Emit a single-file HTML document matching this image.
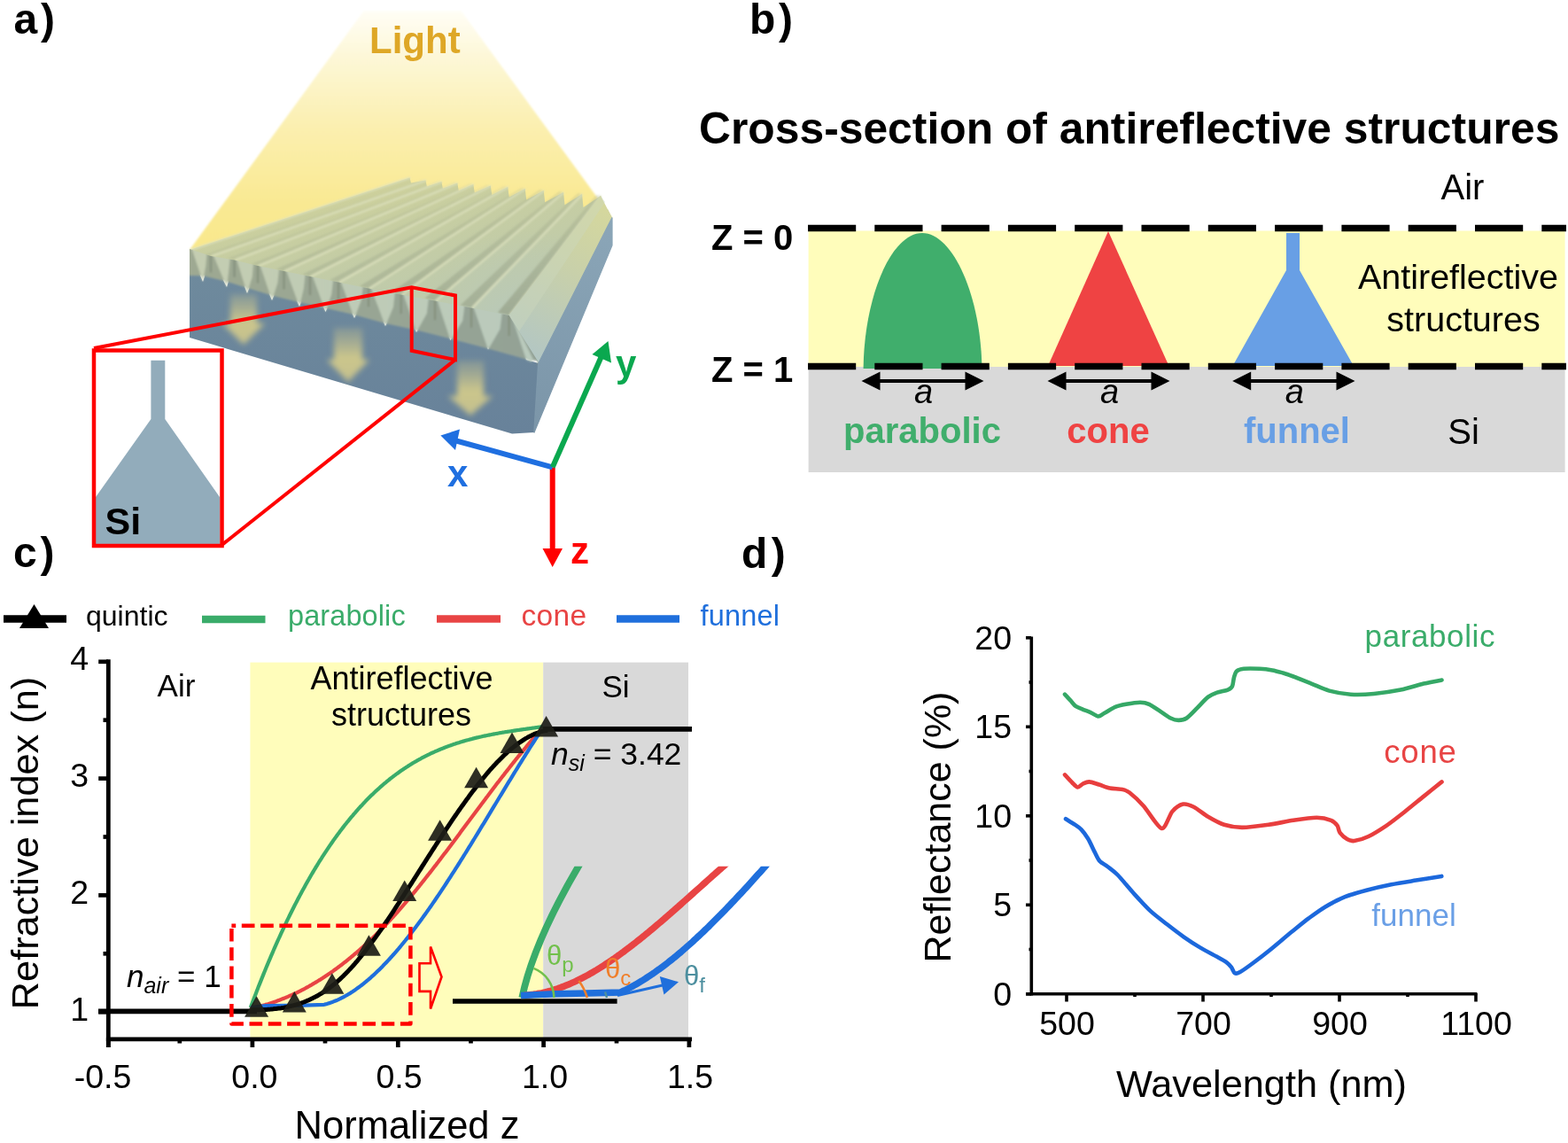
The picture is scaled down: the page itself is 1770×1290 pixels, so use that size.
<!DOCTYPE html>
<html><head><meta charset="utf-8"><title>Antireflective structures figure</title>
<style>
html,body{margin:0;padding:0;background:#fff;width:1770px;height:1290px;overflow:hidden}
svg{display:block}
text{font-family:"Liberation Sans",Arial,sans-serif;fill-rule:nonzero}
.b{font-weight:bold}
</style></head><body>
<svg width="1770" height="1290" viewBox="0 0 1770 1290">
<rect width="1770" height="1290" fill="#fff"/>
<text x="15.4" y="38" class="b" font-size="48" letter-spacing="3.8">a)</text>
<defs>
<linearGradient id="gCone" x1="0" y1="12" x2="0" y2="282" gradientUnits="userSpaceOnUse"><stop offset="0" stop-color="#fffef6"/><stop offset="0.2" stop-color="#fdf7d6"/><stop offset="0.5" stop-color="#fbefae"/><stop offset="0.8" stop-color="#f9e993"/><stop offset="1" stop-color="#f9e88c"/></linearGradient>
<linearGradient id="gWall" x1="0" y1="200" x2="0" y2="400" gradientUnits="userSpaceOnUse"><stop offset="0" stop-color="#a6ad8a" stop-opacity="0.25"/><stop offset="1" stop-color="#8f9b86" stop-opacity="0.95"/></linearGradient>
<linearGradient id="gTop" x1="0" y1="205" x2="40" y2="405" gradientUnits="userSpaceOnUse"><stop offset="0" stop-color="#dcd990"/><stop offset="0.3" stop-color="#d2d297"/><stop offset="0.6" stop-color="#c8cea0"/><stop offset="1" stop-color="#c0cbaa"/></linearGradient>
<radialGradient id="gBlueTop" cx="600" cy="410" r="150" gradientUnits="userSpaceOnUse"><stop offset="0" stop-color="#b0c6c6" stop-opacity="0.95"/><stop offset="0.5" stop-color="#b4c7c0" stop-opacity="0.5"/><stop offset="1" stop-color="#b8c8b8" stop-opacity="0"/></radialGradient>
<linearGradient id="gArrow" x1="0" y1="0" x2="0" y2="1"><stop offset="0" stop-color="#c9c48f" stop-opacity="0.25"/><stop offset="0.55" stop-color="#d6cd8a" stop-opacity="0.9"/><stop offset="1" stop-color="#d3ca8c" stop-opacity="0.85"/></linearGradient>
<linearGradient id="gFront" x1="0" y1="282" x2="0" y2="489" gradientUnits="userSpaceOnUse"><stop offset="0" stop-color="#6f8b9d"/><stop offset="1" stop-color="#68829a"/></linearGradient>
<linearGradient id="gRight" x1="690" y1="245" x2="603" y2="489" gradientUnits="userSpaceOnUse"><stop offset="0" stop-color="#8ba6b8"/><stop offset="1" stop-color="#7b95a8"/></linearGradient>
<linearGradient id="gBand" x1="0" y1="0" x2="0" y2="1"><stop offset="0" stop-color="#a9b39a"/><stop offset="0.75" stop-color="#a3ae9b"/><stop offset="1" stop-color="#a3ae9b" stop-opacity="0"/></linearGradient>
<linearGradient id="gInset" x1="0" y1="0" x2="0" y2="1"><stop offset="0" stop-color="#93adbc"/><stop offset="1" stop-color="#90aab8"/></linearGradient>
<linearGradient id="gLast" x1="680" y1="225" x2="590" y2="400" gradientUnits="userSpaceOnUse"><stop offset="0" stop-color="#d6d89c"/><stop offset="0.45" stop-color="#c8d0aa"/><stop offset="1" stop-color="#b2c6c4"/></linearGradient>
<linearGradient id="gBand2" x1="214" y1="0" x2="610" y2="0" gradientUnits="userSpaceOnUse"><stop offset="0" stop-color="#9ea992"/><stop offset="1" stop-color="#93a296"/></linearGradient>
<linearGradient id="gTeeth" x1="214" y1="0" x2="610" y2="0" gradientUnits="userSpaceOnUse"><stop offset="0" stop-color="#c4cdb1"/><stop offset="1" stop-color="#b9cabd"/></linearGradient>
<filter id="blur3" x="-20%" y="-20%" width="140%" height="140%"><feGaussianBlur stdDeviation="3"/></filter>
<filter id="blur1" x="-20%" y="-20%" width="140%" height="140%"><feGaussianBlur stdDeviation="1.2"/></filter>
</defs>
<polygon points="410.5,12.5 520.7,12.5 691,246 214,282" fill="url(#gCone)" filter="url(#blur1)"/>
<polygon points="214,282 462.5,200.6 464,206.6 480.4,203.6 481.9,210.5 498.4,205 499.9,212.8 516.3,206.6 517.8,215.3 534.3,208 535.8,217.6 553.8,209.6 555.3,220.1 573.2,211 574.7,222.5 592.7,213 594.2,225.4 613.7,215 615.2,228.3 636,217 637.5,231.2 657,219 658.5,234.1 678,221 679.5,237 686,236 691,246 608,410 574.6,359 532,350.5 491,342.5 452.7,335.5 416,328.5 382,321.5 350,315 320.5,309 291,303 264.6,296.5 238,292 214,285" fill="url(#gTop)"/>
<polygon points="214,282 462.5,200.6 464,206.6 480.4,203.6 481.9,210.5 498.4,205 499.9,212.8 516.3,206.6 517.8,215.3 534.3,208 535.8,217.6 553.8,209.6 555.3,220.1 573.2,211 574.7,222.5 592.7,213 594.2,225.4 613.7,215 615.2,228.3 636,217 637.5,231.2 657,219 658.5,234.1 678,221 679.5,237 686,236 691,246 608,410 574.6,359 532,350.5 491,342.5 452.7,335.5 416,328.5 382,321.5 350,315 320.5,309 291,303 264.6,296.5 238,292 214,285" fill="url(#gBlueTop)"/>
<g filter="url(#blur1)">
<polygon points="238,289 480.4,203.6 476.5,202.8 230.8,287.2" fill="url(#gWall)" opacity="0.4"/>
<polygon points="264.6,293.5 498.4,205 494.4,204.2 256.6,291.5" fill="url(#gWall)" opacity="0.4"/>
<polygon points="291,300 516.3,206.6 512.4,205.8 283.1,298" fill="url(#gWall)" opacity="0.5"/>
<polygon points="320.5,306 534.3,208 530.3,207.2 311.6,303.8" fill="url(#gWall)" opacity="0.6"/>
<polygon points="350,312 553.8,209.6 549.5,208.7 341.1,309.8" fill="url(#gWall)" opacity="0.6"/>
<polygon points="382,318.5 573.2,211 568.9,210.1 372.4,316.1" fill="url(#gWall)" opacity="0.6"/>
<polygon points="416,325.5 592.7,213 588.4,212.1 405.8,322.9" fill="url(#gWall)" opacity="0.7"/>
<polygon points="452.7,332.5 613.7,215 609.1,214.1 441.7,329.7" fill="url(#gWall)" opacity="0.8"/>
<polygon points="491,339.5 636,217 631.1,216 479.5,336.6" fill="url(#gWall)" opacity="0.8"/>
<polygon points="532,347.5 657,219 652.4,218.1 519.7,344.4" fill="url(#gWall)" opacity="0.8"/>
<polygon points="574.6,356 678,221 673.4,220.1 561.8,352.8" fill="url(#gWall)" opacity="0.9"/>
<line x1="215" y1="282" x2="463" y2="200.6" stroke="#dfe3c0" stroke-width="2.6" opacity="0.7"/>
<line x1="239" y1="289" x2="480.9" y2="203.6" stroke="#dfe3c0" stroke-width="2.6" opacity="0.7"/>
<line x1="265.6" y1="293.5" x2="498.9" y2="205" stroke="#dfe3c0" stroke-width="2.6" opacity="0.7"/>
<line x1="292" y1="300" x2="516.8" y2="206.6" stroke="#dfe3c0" stroke-width="2.6" opacity="0.7"/>
<line x1="321.5" y1="306" x2="534.8" y2="208" stroke="#dfe3c0" stroke-width="2.6" opacity="0.7"/>
<line x1="351" y1="312" x2="554.3" y2="209.6" stroke="#dfe3c0" stroke-width="2.6" opacity="0.7"/>
<line x1="383" y1="318.5" x2="573.7" y2="211" stroke="#dfe3c0" stroke-width="2.6" opacity="0.7"/>
<line x1="417" y1="325.5" x2="593.2" y2="213" stroke="#dfe3c0" stroke-width="2.6" opacity="0.7"/>
<line x1="453.7" y1="332.5" x2="614.2" y2="215" stroke="#dfe3c0" stroke-width="2.6" opacity="0.7"/>
<line x1="492" y1="339.5" x2="636.5" y2="217" stroke="#dfe3c0" stroke-width="2.6" opacity="0.7"/>
<line x1="533" y1="347.5" x2="657.5" y2="219" stroke="#dfe3c0" stroke-width="2.6" opacity="0.7"/>
<line x1="575.6" y1="356" x2="678.5" y2="221" stroke="#dfe3c0" stroke-width="2.6" opacity="0.7"/>
</g>
<polygon points="574.6,356 678,221 691,246 608,410" fill="url(#gLast)"/>
<polygon points="574.6,356 678,221 683,228 586,374" fill="#cdd6bc" opacity="0.45"/>
<polygon points="214,282 229,318 238,289 256,324 264.6,293.5 279,331 291,300 307,339 320.5,306 338,346 350,312 367.5,352 382,318.5 400,359 416,325.5 435,368 452.7,332.5 470,375 491,339.5 508.5,384 532,347.5 551,394.5 574.6,356 594,406 608,410 603,488 578,489.6 214,381" fill="url(#gFront)"/>
<defs><clipPath id="clipFront"><polygon points="214,281 238,289 264.6,293.5 291,300 320.5,306 350,312 382,318.5 416,325.5 452.7,332.5 491,339.5 532,347.5 574.6,356 608,409 603,488 578,489.6 214,381"/></clipPath></defs>
<g clip-path="url(#clipFront)"><g filter="url(#blur1)">
<polygon points="210,278 238,285 264.6,289.5 291,296 320.5,302 350,308 382,314.5 416,321.5 452.7,328.5 491,335.5 532,343.5 574.6,352 612,405 612,408 594,405.6 551,393.4 508.5,382.2 470,372.5 435,364.9 400,355.3 367.5,347.7 338,341.2 307,333.6 279,325.1 256,317.7 229,311.3 210,311" fill="url(#gBand2)"/>
<polygon points="215.5,278 233.7,285 232.2,300.6 229,318" fill="url(#gTeeth)"/>
<line x1="238" y1="288" x2="238" y2="307.5" stroke="#86927f" stroke-width="2.4"/>
<polygon points="239.5,285 259.8,289.5 258.2,305.7 256,324" fill="url(#gTeeth)"/>
<line x1="264.6" y1="292.5" x2="264.6" y2="312.8" stroke="#86927f" stroke-width="2.4"/>
<polygon points="266.1,289.5 286.2,296 284.7,312.4 279,331" fill="url(#gTeeth)"/>
<line x1="291" y1="299" x2="291" y2="319.5" stroke="#86927f" stroke-width="2.4"/>
<polygon points="292.5,296 315.2,302 313.4,319.2 307,339" fill="url(#gTeeth)"/>
<line x1="320.5" y1="305" x2="320.5" y2="326.5" stroke="#86927f" stroke-width="2.4"/>
<polygon points="322,302 344.7,308 342.9,325.6 338,346" fill="url(#gTeeth)"/>
<line x1="350" y1="311" x2="350" y2="333" stroke="#86927f" stroke-width="2.4"/>
<polygon points="351.5,308 376.2,314.5 374.3,331.9 367.5,352" fill="url(#gTeeth)"/>
<line x1="382" y1="317.5" x2="382" y2="339.2" stroke="#86927f" stroke-width="2.4"/>
<polygon points="383.5,314.5 409.9,321.5 407.8,338.9 400,359" fill="url(#gTeeth)"/>
<line x1="416" y1="324.5" x2="416" y2="346.2" stroke="#86927f" stroke-width="2.4"/>
<polygon points="417.5,321.5 446.1,328.5 443.9,346.7 435,368" fill="url(#gTeeth)"/>
<line x1="452.7" y1="331.5" x2="452.7" y2="354.2" stroke="#86927f" stroke-width="2.4"/>
<polygon points="454.2,328.5 484.1,335.5 481.8,353.7 470,375" fill="url(#gTeeth)"/>
<line x1="491" y1="338.5" x2="491" y2="361.2" stroke="#86927f" stroke-width="2.4"/>
<polygon points="492.5,335.5 524.6,343.5 522.2,362.1 508.5,384" fill="url(#gTeeth)"/>
<line x1="532" y1="346.5" x2="532" y2="369.8" stroke="#86927f" stroke-width="2.4"/>
<polygon points="533.5,343.5 566.9,352 564.4,371.4 551,394.5" fill="url(#gTeeth)"/>
<line x1="574.6" y1="355" x2="574.6" y2="379.2" stroke="#86927f" stroke-width="2.4"/>
<polygon points="576.1,352 602,406 600,408.4 594,406" fill="url(#gTeeth)"/>
<line x1="608" y1="409" x2="608" y2="412" stroke="#86927f" stroke-width="2.4"/>
</g></g>
<polygon points="607.6,410.5 691,245.4 691,277 602.8,488.4" fill="url(#gRight)" stroke="url(#gRight)" stroke-width="1.2"/>
<polygon points="260,332 290,332 290,365 299,365 275,389 251,365 260,365" fill="url(#gArrow)" filter="url(#blur3)"/>
<polygon points="377,370 409,370 409,406 417,406 393,431 369,406 377,406" fill="url(#gArrow)" filter="url(#blur3)"/>
<polygon points="516,407 546,407 546,447 556,447 531,469 506,447 516,447" fill="url(#gArrow)" filter="url(#blur3)"/>
<polyline points="106,393 464.7,324.2 514,333.5 514,406 464.7,395.8 464.7,324.2" fill="none" stroke="#ff0000" stroke-width="4" stroke-linejoin="miter"/>
<line x1="250.5" y1="615" x2="514" y2="406" stroke="#ff0000" stroke-width="4"/>
<rect x="106" y="395.5" width="144.5" height="220.5" fill="#ffffff"/>
<polygon points="170.4,406.7 186.3,406.7 186.3,473 248,561 248,614 108,614 108,561 170.4,473" fill="#92acbb"/>
<rect x="106" y="395.5" width="144.5" height="220.5" fill="none" stroke="#ff0000" stroke-width="4.5"/>
<text x="118.5" y="603" class="b" font-size="43" fill="#000">Si</text>
<line x1="623.7" y1="527.3" x2="623.7" y2="620" stroke="#ff0000" stroke-width="6"/>
<polygon points="612.5,619 635,619 623.7,640" fill="#ff0000"/>
<line x1="623.7" y1="527.3" x2="515" y2="497.5" stroke="#1f6fe0" stroke-width="6"/>
<polygon points="497.4,491.5 519,484.5 514,508" fill="#1f6fe0"/>
<line x1="623.7" y1="527.3" x2="679" y2="402" stroke="#0aa84f" stroke-width="6"/>
<polygon points="686.5,385 690,409.5 668.5,400" fill="#0aa84f"/>
<text x="695" y="425" class="b" font-size="42" fill="#0aa84f">y</text>
<text x="505" y="549" class="b" font-size="42" fill="#1f6fe0">x</text>
<text x="644" y="636" class="b" font-size="42" fill="#ff0000">z</text>
<text x="417" y="60" class="b" font-size="42" fill="#dea726">Light</text>
<text x="846" y="38" class="b" font-size="48" letter-spacing="3.8">b)</text>
<text x="789" y="162.4" class="b" font-size="49.8">Cross-section of antireflective structures</text>
<text x="1651" y="224.8" font-size="40" text-anchor="middle">Air</text>
<rect x="912.6" y="260.5" width="854" height="153.5" fill="#fffdbb"/>
<rect x="912.6" y="414" width="854" height="119" fill="#d9d9d9"/>
<path d="M974.6,416 C975.5,335 1006,263 1041,263 C1076,263 1107.5,335 1108.4,416 Z" fill="#40ae6c"/>
<polygon points="1251,261 1319.5,413 1183,413" fill="#ef4343"/>
<polygon points="1452,263 1467,263 1467,305 1528,413 1391.5,413 1452,305" fill="#689fe5"/>
<line x1="912" y1="257.5" x2="1768" y2="257.5" stroke="#000" stroke-width="7.3" stroke-dasharray="54.2 21.1"/>
<line x1="912" y1="413.5" x2="1768" y2="413.5" stroke="#000" stroke-width="7.3" stroke-dasharray="54.2 21.1"/>
<text x="803" y="281.7" class="b" font-size="40">Z = 0</text>
<text x="803" y="430.7" class="b" font-size="40">Z = 1</text>
<line x1="988" y1="430" x2="1095" y2="430" stroke="#000" stroke-width="4"/>
<polygon points="972.5,430 993.5,419.5 993.5,440.5" fill="#000"/>
<polygon points="1110.5,430 1089.5,419.5 1089.5,440.5" fill="#000"/>
<text x="1042.5" y="455" font-size="38" font-style="italic" text-anchor="middle">a</text>
<line x1="1198" y1="430" x2="1305" y2="430" stroke="#000" stroke-width="4"/>
<polygon points="1182.5,430 1203.5,419.5 1203.5,440.5" fill="#000"/>
<polygon points="1320.5,430 1299.5,419.5 1299.5,440.5" fill="#000"/>
<text x="1252.5" y="455" font-size="38" font-style="italic" text-anchor="middle">a</text>
<line x1="1406.7" y1="430" x2="1514" y2="430" stroke="#000" stroke-width="4"/>
<polygon points="1391.2,430 1412.2,419.5 1412.2,440.5" fill="#000"/>
<polygon points="1529.5,430 1508.5,419.5 1508.5,440.5" fill="#000"/>
<text x="1461.3" y="455" font-size="38" font-style="italic" text-anchor="middle">a</text>
<text x="1041" y="500" class="b" font-size="40" fill="#40ae6c" text-anchor="middle">parabolic</text>
<text x="1251" y="500" class="b" font-size="40" fill="#ef4343" text-anchor="middle">cone</text>
<text x="1464" y="500" class="b" font-size="40" fill="#689fe5" text-anchor="middle">funnel</text>
<text x="1652" y="500.5" font-size="40" text-anchor="middle">Si</text>
<text x="1646" y="325.7" font-size="39.5" text-anchor="middle">Antireflective</text>
<text x="1652" y="373.7" font-size="39.5" text-anchor="middle">structures</text>
<text x="15" y="640" class="b" font-size="48" letter-spacing="3.8">c)</text>
<line x1="4" y1="698.5" x2="75" y2="698.5" stroke="#000" stroke-width="8.5"/>
<polygon points="38.5,682 55,709 22,709" fill="#000"/>
<text x="97" y="705.5" font-size="32" letter-spacing="0">quintic</text>
<line x1="228" y1="699" x2="299.5" y2="699" stroke="#3aac6a" stroke-width="8.5"/>
<text x="325" y="705.5" font-size="32.5" letter-spacing="0.1" fill="#3aac6a">parabolic</text>
<line x1="493" y1="698.5" x2="565" y2="698.5" stroke="#e84444" stroke-width="8.5"/>
<text x="588.5" y="705.5" font-size="33.5" letter-spacing="0.3" fill="#e84444">cone</text>
<line x1="696" y1="698.5" x2="767" y2="698.5" stroke="#1f6fdc" stroke-width="8.5"/>
<text x="790.5" y="705.5" font-size="32.5" letter-spacing="0.2" fill="#1f6fdc">funnel</text>
<rect x="282.4" y="747.6" width="330.8" height="425" fill="#fffdbb"/>
<rect x="613.2" y="747.6" width="163.8" height="425" fill="#d9d9d9"/>
<text x="199" y="786" font-size="35" text-anchor="middle">Air</text>
<text x="453.5" y="778" font-size="36" text-anchor="middle">Antireflective</text>
<text x="453" y="819" font-size="36" text-anchor="middle">structures</text>
<text x="695" y="786.8" font-size="35" text-anchor="middle">Si</text>
<path d="M282.8,1137.2 L283.8,1134.5 L284.8,1131.9 L285.8,1129.2 L286.8,1126.6 L287.8,1124 L288.8,1121.4 L289.8,1118.8 L290.8,1116.2 L291.8,1113.6 L292.8,1111.1 L293.8,1108.6 L294.8,1106.1 L295.8,1103.6 L296.8,1101.1 L297.8,1098.6 L298.8,1096.2 L299.8,1093.7 L300.8,1091.3 L301.8,1088.9 L302.8,1086.5 L303.8,1084.1 L304.8,1081.8 L305.8,1079.4 L306.8,1077.1 L307.8,1074.8 L308.8,1072.5 L309.8,1070.2 L310.8,1067.9 L311.8,1065.7 L312.8,1063.4 L313.8,1061.2 L314.8,1059 L315.8,1056.8 L316.8,1054.6 L317.8,1052.4 L318.8,1050.3 L319.8,1048.1 L320.8,1046 L321.8,1043.9 L322.8,1041.8 L323.8,1039.7 L324.8,1037.6 L325.8,1035.6 L326.8,1033.5 L327.8,1031.5 L328.8,1029.5 L329.8,1027.5 L330.8,1025.5 L331.8,1023.5 L332.8,1021.6 L333.8,1019.6 L334.8,1017.7 L335.8,1015.8 L336.8,1013.8 L337.8,1011.9 L338.8,1010.1 L339.8,1008.2 L340.8,1006.3 L341.8,1004.5 L342.8,1002.7 L343.8,1000.9 L344.8,999.1 L345.8,997.3 L346.8,995.5 L347.8,993.7 L348.8,992 L349.8,990.2 L350.8,988.5 L351.8,986.8 L352.8,985.1 L353.8,983.4 L354.8,981.7 L355.8,980.1 L356.8,978.4 L357.8,976.8 L358.8,975.2 L359.8,973.5 L360.8,971.9 L361.8,970.3 L362.8,968.8 L363.8,967.2 L364.8,965.7 L365.8,964.1 L366.8,962.6 L367.8,961.1 L368.8,959.6 L369.8,958.1 L370.8,956.6 L371.8,955.1 L372.8,953.6 L373.8,952.2 L374.8,950.8 L375.8,949.3 L376.8,947.9 L377.8,946.5 L378.8,945.1 L379.8,943.7 L380.8,942.4 L381.8,941 L382.8,939.7 L383.8,938.3 L384.8,937 L385.8,935.7 L386.8,934.4 L387.8,933.1 L388.8,931.8 L389.8,930.5 L390.8,929.3 L391.8,928 L392.8,926.8 L393.8,925.6 L394.8,924.3 L395.8,923.1 L396.8,921.9 L397.8,920.8 L398.8,919.6 L399.8,918.4 L400.8,917.3 L401.8,916.1 L402.8,915 L403.8,913.8 L404.8,912.7 L405.8,911.6 L406.8,910.5 L407.8,909.4 L408.8,908.4 L409.8,907.3 L410.8,906.2 L411.8,905.2 L412.8,904.1 L413.8,903.1 L414.8,902.1 L415.8,901.1 L416.8,900.1 L417.8,899.1 L418.8,898.1 L419.8,897.1 L420.8,896.2 L421.8,895.2 L422.8,894.3 L423.8,893.3 L424.8,892.4 L425.8,891.5 L426.8,890.6 L427.8,889.7 L428.8,888.8 L429.8,887.9 L430.8,887 L431.8,886.2 L432.8,885.3 L433.8,884.4 L434.8,883.6 L435.8,882.8 L436.8,881.9 L437.8,881.1 L438.8,880.3 L439.8,879.5 L440.8,878.7 L441.8,877.9 L442.8,877.2 L443.8,876.4 L444.8,875.6 L445.8,874.9 L446.8,874.1 L447.8,873.4 L448.8,872.7 L449.8,872 L450.8,871.2 L451.8,870.5 L452.8,869.8 L453.8,869.1 L454.8,868.5 L455.8,867.8 L456.8,867.1 L457.8,866.5 L458.8,865.8 L459.8,865.2 L460.8,864.5 L461.8,863.9 L462.8,863.3 L463.8,862.6 L464.8,862 L465.8,861.4 L466.8,860.8 L467.8,860.2 L468.8,859.6 L469.8,859.1 L470.8,858.5 L471.8,857.9 L472.8,857.4 L473.8,856.8 L474.8,856.3 L475.8,855.7 L476.8,855.2 L477.8,854.7 L478.8,854.1 L479.8,853.6 L480.8,853.1 L481.8,852.6 L482.8,852.1 L483.8,851.6 L484.8,851.2 L485.8,850.7 L486.8,850.2 L487.8,849.7 L488.8,849.3 L489.8,848.8 L490.8,848.4 L491.8,847.9 L492.8,847.5 L493.8,847.1 L494.8,846.6 L495.8,846.2 L496.8,845.8 L497.8,845.4 L498.8,845 L499.8,844.6 L500.8,844.2 L501.8,843.8 L502.8,843.4 L503.8,843 L504.8,842.6 L505.8,842.3 L506.8,841.9 L507.8,841.5 L508.8,841.2 L509.8,840.8 L510.8,840.5 L511.8,840.1 L512.8,839.8 L513.8,839.5 L514.8,839.1 L515.8,838.8 L516.8,838.5 L517.8,838.2 L518.8,837.9 L519.8,837.5 L520.8,837.2 L521.8,836.9 L522.8,836.6 L523.8,836.4 L524.8,836.1 L525.8,835.8 L526.8,835.5 L527.8,835.2 L528.8,835 L529.8,834.7 L530.8,834.4 L531.8,834.2 L532.8,833.9 L533.8,833.6 L534.8,833.4 L535.8,833.1 L536.8,832.9 L537.8,832.6 L538.8,832.4 L539.8,832.2 L540.8,831.9 L541.8,831.7 L542.8,831.5 L543.8,831.3 L544.8,831 L545.8,830.8 L546.8,830.6 L547.8,830.4 L548.8,830.2 L549.8,830 L550.8,829.8 L551.8,829.6 L552.8,829.4 L553.8,829.2 L554.8,829 L555.8,828.8 L556.8,828.6 L557.8,828.4 L558.8,828.2 L559.8,828 L560.8,827.9 L561.8,827.7 L562.8,827.5 L563.8,827.3 L564.8,827.1 L565.8,827 L566.8,826.8 L567.8,826.6 L568.8,826.5 L569.8,826.3 L570.8,826.1 L571.8,826 L572.8,825.8 L573.8,825.7 L574.8,825.5 L575.8,825.4 L576.8,825.2 L577.8,825 L578.8,824.9 L579.8,824.7 L580.8,824.6 L581.8,824.4 L582.8,824.3 L583.8,824.1 L584.8,824 L585.8,823.9 L586.8,823.7 L587.8,823.6 L588.8,823.4 L589.8,823.3 L590.8,823.1 L591.8,823 L592.8,822.9 L593.8,822.7 L594.8,822.6 L595.8,822.4 L596.8,822.3 L597.8,822.2 L598.8,822 L599.8,821.9 L600.8,821.7 L601.8,821.6 L602.8,821.5 L603.8,821.3 L604.8,821.2 L605.8,821 L606.8,820.9 L607.8,820.8 L608.8,820.6 L609.8,820.5 L610.8,820.3 L611.8,820.2 L612.8,820.1 L613,820" fill="none" stroke="#3aac6a" stroke-width="4.2" stroke-linejoin="round"/>
<path d="M283,1138.2 L284.5,1137.9 L286,1137.6 L287.5,1137.2 L289,1136.9 L290.5,1136.5 L292,1136.1 L293.5,1135.8 L295,1135.4 L296.5,1134.9 L298,1134.5 L299.5,1134.1 L301,1133.6 L302.5,1133.2 L304,1132.7 L305.5,1132.2 L307,1131.7 L308.5,1131.2 L310,1130.7 L311.5,1130.2 L313,1129.6 L314.5,1129.1 L316,1128.5 L317.5,1127.9 L319,1127.3 L320.5,1126.7 L322,1126.1 L323.5,1125.5 L325,1124.9 L326.5,1124.2 L328,1123.5 L329.5,1122.9 L331,1122.2 L332.5,1121.5 L334,1120.8 L335.5,1120.1 L337,1119.3 L338.5,1118.6 L340,1117.8 L341.5,1117 L343,1116.3 L344.5,1115.5 L346,1114.6 L347.5,1113.8 L349,1113 L350.5,1112.1 L352,1111.3 L353.5,1110.4 L355,1109.5 L356.5,1108.6 L358,1107.7 L359.5,1106.8 L361,1105.9 L362.5,1104.9 L364,1104 L365.5,1103 L367,1102 L368.5,1101 L370,1100 L371.5,1099 L373,1098 L374.5,1096.9 L376,1095.9 L377.5,1094.8 L379,1093.7 L380.5,1092.6 L382,1091.5 L383.5,1090.4 L385,1089.3 L386.5,1088.1 L388,1086.9 L389.5,1085.8 L391,1084.6 L392.5,1083.4 L394,1082.2 L395.5,1081 L397,1079.7 L398.5,1078.5 L400,1077.2 L401.5,1075.9 L403,1074.7 L404.5,1073.4 L406,1072 L407.5,1070.7 L409,1069.4 L410.5,1068 L412,1066.7 L413.5,1065.3 L415,1063.9 L416.5,1062.5 L418,1061.1 L419.5,1059.6 L421,1058.2 L422.5,1056.7 L424,1055.3 L425.5,1053.8 L427,1052.3 L428.5,1050.8 L430,1049.3 L431.5,1047.7 L433,1046.2 L434.5,1044.6 L436,1043.1 L437.5,1041.5 L439,1039.9 L440.5,1038.3 L442,1036.6 L443.5,1035 L445,1033.3 L446.5,1031.7 L448,1030 L449.5,1028.3 L451,1026.6 L452.5,1024.9 L454,1023.2 L455.5,1021.4 L457,1019.7 L458.5,1017.9 L460,1016.1 L461.5,1014.4 L463,1012.6 L464.5,1010.8 L466,1009 L467.5,1007.1 L469,1005.3 L470.5,1003.5 L472,1001.6 L473.5,999.8 L475,997.9 L476.5,996 L478,994.1 L479.5,992.2 L481,990.3 L482.5,988.4 L484,986.5 L485.5,984.6 L487,982.7 L488.5,980.8 L490,978.8 L491.5,976.9 L493,974.9 L494.5,973 L496,971 L497.5,969.1 L499,967.1 L500.5,965.1 L502,963.1 L503.5,961.2 L505,959.2 L506.5,957.2 L508,955.2 L509.5,953.2 L511,951.2 L512.5,949.2 L514,947.2 L515.5,945.2 L517,943.2 L518.5,941.2 L520,939.1 L521.5,937.1 L523,935.1 L524.5,933.1 L526,931.1 L527.5,929.1 L529,927.1 L530.5,925 L532,923 L533.5,921 L535,919 L536.5,917 L538,915 L539.5,913 L541,911 L542.5,909 L544,906.9 L545.5,904.9 L547,902.9 L548.5,900.9 L550,899 L551.5,897 L553,895 L554.5,893 L556,891 L557.5,889 L559,887.1 L560.5,885.1 L562,883.1 L563.5,881.2 L565,879.2 L566.5,877.3 L568,875.4 L569.5,873.4 L571,871.5 L572.5,869.6 L574,867.7 L575.5,865.8 L577,863.9 L578.5,862 L580,860.1 L581.5,858.2 L583,856.3 L584.5,854.5 L586,852.6 L587.5,850.8 L589,849 L590.5,847.1 L592,845.3 L593.5,843.5 L595,841.7 L596.5,839.9 L598,838.2 L599.5,836.4 L601,834.7 L602.5,832.9 L604,831.2 L605.5,829.5 L607,827.8 L608.5,826.1 L610,824.4 L611,823.3" fill="none" stroke="#e84444" stroke-width="4.2" stroke-linejoin="round"/>
<path d="M283,1137 L300,1135.2 L343.7,1134.6 L366,1133.8 L367.5,1133.4 L369,1133 L370.5,1132.5 L372,1132.1 L373.5,1131.5 L375,1131 L376.5,1130.4 L378,1129.8 L379.5,1129.2 L381,1128.6 L382.5,1127.9 L384,1127.2 L385.5,1126.4 L387,1125.6 L388.5,1124.8 L390,1124 L391.5,1123.2 L393,1122.3 L394.5,1121.4 L396,1120.4 L397.5,1119.5 L399,1118.5 L400.5,1117.5 L402,1116.4 L403.5,1115.3 L405,1114.2 L406.5,1113.1 L408,1112 L409.5,1110.8 L411,1109.6 L412.5,1108.4 L414,1107.1 L415.5,1105.9 L417,1104.6 L418.5,1103.3 L420,1101.9 L421.5,1100.6 L423,1099.2 L424.5,1097.8 L426,1096.3 L427.5,1094.9 L429,1093.4 L430.5,1091.9 L432,1090.4 L433.5,1088.8 L435,1087.3 L436.5,1085.7 L438,1084.1 L439.5,1082.5 L441,1080.8 L442.5,1079.2 L444,1077.5 L445.5,1075.8 L447,1074.1 L448.5,1072.3 L450,1070.6 L451.5,1068.8 L453,1067 L454.5,1065.2 L456,1063.3 L457.5,1061.5 L459,1059.6 L460.5,1057.7 L462,1055.8 L463.5,1053.9 L465,1052 L466.5,1050 L468,1048 L469.5,1046.1 L471,1044.1 L472.5,1042 L474,1040 L475.5,1038 L477,1035.9 L478.5,1033.8 L480,1031.7 L481.5,1029.6 L483,1027.5 L484.5,1025.4 L486,1023.2 L487.5,1021.1 L489,1018.9 L490.5,1016.7 L492,1014.5 L493.5,1012.3 L495,1010.1 L496.5,1007.8 L498,1005.6 L499.5,1003.3 L501,1001.1 L502.5,998.8 L504,996.5 L505.5,994.2 L507,991.9 L508.5,989.6 L510,987.2 L511.5,984.9 L513,982.6 L514.5,980.2 L516,977.8 L517.5,975.5 L519,973.1 L520.5,970.7 L522,968.3 L523.5,965.9 L525,963.5 L526.5,961.1 L528,958.7 L529.5,956.2 L531,953.8 L532.5,951.4 L534,948.9 L535.5,946.5 L537,944 L538.5,941.6 L540,939.1 L541.5,936.7 L543,934.2 L544.5,931.7 L546,929.3 L547.5,926.8 L549,924.3 L550.5,921.8 L552,919.4 L553.5,916.9 L555,914.4 L556.5,911.9 L558,909.4 L559.5,907 L561,904.5 L562.5,902 L564,899.5 L565.5,897.1 L567,894.6 L568.5,892.1 L570,889.6 L571.5,887.2 L573,884.7 L574.5,882.2 L576,879.8 L577.5,877.3 L579,874.9 L580.5,872.4 L582,870 L583.5,867.6 L585,865.1 L586.5,862.7 L588,860.3 L589.5,857.9 L591,855.5 L592.5,853.1 L594,850.7 L595.5,848.3 L597,845.9 L598.5,843.5 L600,841.2 L601.5,838.8 L603,836.5 L604.5,834.1 L606,831.8 L607.5,829.5 L609,827.2 L610.5,824.9 L611,824.1" fill="none" stroke="#1f6fdc" stroke-width="4.2" stroke-linejoin="round"/>
<line x1="111" y1="1141.4" x2="290" y2="1141.4" stroke="#000" stroke-width="5.6"/>
<line x1="613" y1="822.9" x2="781" y2="822.9" stroke="#000" stroke-width="5.9"/>
<path d="M283,1139.7 L284.5,1139.7 L286,1139.7 L287.5,1139.7 L289,1139.7 L290.5,1139.7 L292,1139.7 L293.5,1139.7 L295,1139.6 L296.5,1139.6 L298,1139.5 L299.5,1139.4 L301,1139.4 L302.5,1139.3 L304,1139.2 L305.5,1139.1 L307,1138.9 L308.5,1138.8 L310,1138.6 L311.5,1138.5 L313,1138.3 L314.5,1138.1 L316,1137.9 L317.5,1137.7 L319,1137.4 L320.5,1137.2 L322,1136.9 L323.5,1136.6 L325,1136.3 L326.5,1135.9 L328,1135.6 L329.5,1135.2 L331,1134.8 L332.5,1134.4 L334,1134 L335.5,1133.5 L337,1133.1 L338.5,1132.6 L340,1132.1 L341.5,1131.5 L343,1131 L344.5,1130.4 L346,1129.8 L347.5,1129.1 L349,1128.5 L350.5,1127.8 L352,1127.1 L353.5,1126.3 L355,1125.6 L356.5,1124.8 L358,1124 L359.5,1123.1 L361,1122.2 L362.5,1121.3 L364,1120.4 L365.5,1119.4 L367,1118.4 L368.5,1117.4 L370,1116.3 L371.5,1115.3 L373,1114.1 L374.5,1113 L376,1111.8 L377.5,1110.6 L379,1109.3 L380.5,1108 L382,1106.7 L383.5,1105.3 L385,1103.9 L386.5,1102.5 L388,1101.1 L389.5,1099.6 L391,1098 L392.5,1096.5 L394,1094.9 L395.5,1093.3 L397,1091.6 L398.5,1090 L400,1088.3 L401.5,1086.5 L403,1084.8 L404.5,1083 L406,1081.2 L407.5,1079.3 L409,1077.5 L410.5,1075.6 L412,1073.7 L413.5,1071.8 L415,1069.8 L416.5,1067.8 L418,1065.8 L419.5,1063.8 L421,1061.8 L422.5,1059.7 L424,1057.7 L425.5,1055.6 L427,1053.5 L428.5,1051.3 L430,1049.2 L431.5,1047 L433,1044.9 L434.5,1042.7 L436,1040.5 L437.5,1038.3 L439,1036 L440.5,1033.8 L442,1031.6 L443.5,1029.3 L445,1027 L446.5,1024.7 L448,1022.4 L449.5,1020.2 L451,1017.8 L452.5,1015.5 L454,1013.2 L455.5,1010.9 L457,1008.5 L458.5,1006.2 L460,1003.9 L461.5,1001.5 L463,999.2 L464.5,996.8 L466,994.5 L467.5,992.1 L469,989.7 L470.5,987.4 L472,985 L473.5,982.7 L475,980.3 L476.5,977.9 L478,975.6 L479.5,973.2 L481,970.9 L482.5,968.5 L484,966.2 L485.5,963.8 L487,961.5 L488.5,959.2 L490,956.8 L491.5,954.5 L493,952.2 L494.5,949.9 L496,947.6 L497.5,945.3 L499,943 L500.5,940.7 L502,938.4 L503.5,936.1 L505,933.9 L506.5,931.6 L508,929.4 L509.5,927.2 L511,924.9 L512.5,922.7 L514,920.5 L515.5,918.4 L517,916.2 L518.5,914 L520,911.9 L521.5,909.8 L523,907.7 L524.5,905.6 L526,903.5 L527.5,901.4 L529,899.4 L530.5,897.3 L532,895.3 L533.5,893.3 L535,891.4 L536.5,889.4 L538,887.5 L539.5,885.5 L541,883.6 L542.5,881.8 L544,879.9 L545.5,878.1 L547,876.3 L548.5,874.5 L550,872.7 L551.5,871 L553,869.2 L554.5,867.5 L556,865.9 L557.5,864.2 L559,862.6 L560.5,861 L562,859.4 L563.5,857.9 L565,856.4 L566.5,854.9 L568,853.4 L569.5,852 L571,850.6 L572.5,849.2 L574,847.9 L575.5,846.6 L577,845.3 L578.5,844.1 L580,842.9 L581.5,841.7 L583,840.5 L584.5,839.4 L586,838.3 L587.5,837.3 L589,836.3 L590.5,835.3 L592,834.3 L593.5,833.4 L595,832.6 L596.5,831.7 L598,830.9 L599.5,830.2 L601,829.5 L602.5,828.8 L604,828.1 L605.5,827.5 L607,827 L608.5,826.5 L610,826 L611.5,825.5 L613,825.1 L614.5,824.8 L616,824.5 L617.5,824.2 L618,824.1" fill="none" stroke="#000" stroke-width="5" stroke-linejoin="round"/>
<polygon points="289.6,1124.3 303.1,1147.8 276.1,1147.8" fill="#1e1e18" fill-opacity="0.93"/>
<polygon points="332.3,1118.9 345.8,1142.4 318.8,1142.4" fill="#1e1e18" fill-opacity="0.93"/>
<polygon points="374.9,1098.3 388.4,1121.8 361.4,1121.8" fill="#1e1e18" fill-opacity="0.93"/>
<polygon points="416.4,1055.3 429.9,1078.8 402.9,1078.8" fill="#1e1e18" fill-opacity="0.93"/>
<polygon points="456.7,993.5 470.2,1017 443.2,1017" fill="#1e1e18" fill-opacity="0.93"/>
<polygon points="496.6,925.2 510.1,948.7 483.1,948.7" fill="#1e1e18" fill-opacity="0.93"/>
<polygon points="537.6,865.8 551.1,889.3 524.1,889.3" fill="#1e1e18" fill-opacity="0.93"/>
<polygon points="578,826.6 591.5,850.1 564.5,850.1" fill="#1e1e18" fill-opacity="0.93"/>
<polygon points="616.6,808 630.1,831.5 603.1,831.5" fill="#1e1e18" fill-opacity="0.93"/>
<line x1="122.3" y1="744.3" x2="122.3" y2="1182" stroke="#000" stroke-width="4.8"/>
<line x1="119.9" y1="1172.9" x2="781" y2="1172.9" stroke="#000" stroke-width="4.8"/>
<line x1="111.2" y1="746.8" x2="122" y2="746.8" stroke="#000" stroke-width="4.7"/>
<text x="100" y="756.1" font-size="37.5" text-anchor="end">4</text>
<line x1="111.2" y1="878.6" x2="122" y2="878.6" stroke="#000" stroke-width="4.7"/>
<text x="100" y="887.9" font-size="37.5" text-anchor="end">3</text>
<line x1="111.2" y1="1010.4" x2="122" y2="1010.4" stroke="#000" stroke-width="4.7"/>
<text x="100" y="1019.7" font-size="37.5" text-anchor="end">2</text>
<line x1="111.2" y1="1142.2" x2="122" y2="1142.2" stroke="#000" stroke-width="4.7"/>
<text x="100" y="1151.5" font-size="37.5" text-anchor="end">1</text>
<line x1="116.5" y1="812.7" x2="122" y2="812.7" stroke="#000" stroke-width="4.7"/>
<line x1="116.5" y1="944.5" x2="122" y2="944.5" stroke="#000" stroke-width="4.7"/>
<line x1="116.5" y1="1076.3" x2="122" y2="1076.3" stroke="#000" stroke-width="4.7"/>
<line x1="122.3" y1="1172" x2="122.3" y2="1182" stroke="#000" stroke-width="4.7"/>
<text x="116" y="1228.3" font-size="37.5" text-anchor="middle">-0.5</text>
<line x1="284.9" y1="1172" x2="284.9" y2="1182" stroke="#000" stroke-width="4.7"/>
<text x="287.4" y="1228.3" font-size="37.5" text-anchor="middle">0.0</text>
<line x1="449.3" y1="1172" x2="449.3" y2="1182" stroke="#000" stroke-width="4.7"/>
<text x="450.5" y="1228.3" font-size="37.5" text-anchor="middle">0.5</text>
<line x1="613.6" y1="1172" x2="613.6" y2="1182" stroke="#000" stroke-width="4.7"/>
<text x="615" y="1228.3" font-size="37.5" text-anchor="middle">1.0</text>
<line x1="777.9" y1="1172" x2="777.9" y2="1182" stroke="#000" stroke-width="4.7"/>
<text x="779" y="1228.3" font-size="37.5" text-anchor="middle">1.5</text>
<line x1="202.8" y1="1172" x2="202.8" y2="1177.5" stroke="#000" stroke-width="4.7"/>
<line x1="367" y1="1172" x2="367" y2="1177.5" stroke="#000" stroke-width="4.7"/>
<line x1="531.5" y1="1172" x2="531.5" y2="1177.5" stroke="#000" stroke-width="4.7"/>
<line x1="696" y1="1172" x2="696" y2="1177.5" stroke="#000" stroke-width="4.7"/>
<text x="459.5" y="1285" font-size="43.5" text-anchor="middle">Normalized z</text>
<text transform="translate(43,951.5) rotate(-90)" font-size="43.3" text-anchor="middle">Refractive index (n)</text>
<text x="143" y="1113.5" font-size="35"><tspan font-style="italic">n</tspan><tspan font-style="italic" font-size="25" dy="7">air</tspan><tspan dy="-7"> = 1</tspan></text>
<text x="622" y="863.2" font-size="35.5"><tspan font-style="italic">n</tspan><tspan font-style="italic" font-size="25" dy="7">si</tspan><tspan dy="-7"> = 3.42</tspan></text>
<path d="M261.4,1044.8 H463.4 V1155.6 H261.4 Z" fill="none" stroke="#ff0000" stroke-width="4.5" stroke-linejoin="round" stroke-dasharray="14.7 6.6" stroke-dashoffset="9.9"/>
<polygon points="473.5,1087.3 486,1087.3 486,1068.5 498.5,1102.5 486,1138.5 486,1118.9 473.5,1118.9" fill="none" stroke="#ff0000" stroke-width="2.6" stroke-linejoin="miter"/>
<defs><clipPath id="clipIn"><rect x="500" y="977.8" width="400" height="200"/></clipPath></defs>
<line x1="511" y1="1130" x2="696.6" y2="1130" stroke="#000" stroke-width="5.5"/>
<g clip-path="url(#clipIn)">
<path d="M589.3,1126 Q603,1060 660,966" fill="none" stroke="#3aac6a" stroke-width="7.8"/>
<path d="M592,1123.2 L594,1123 L596,1122.9 L598,1122.7 L600,1122.5 L602,1122.3 L604,1122 L606,1121.7 L608,1121.3 L610,1121 L612,1120.6 L614,1120.1 L616,1119.7 L618,1119.2 L620,1118.6 L622,1118.1 L624,1117.5 L626,1116.9 L628,1116.2 L630,1115.6 L632,1114.9 L634,1114.1 L636,1113.4 L638,1112.6 L640,1111.8 L642,1111 L644,1110.1 L646,1109.2 L648,1108.3 L650,1107.4 L652,1106.4 L654,1105.4 L656,1104.4 L658,1103.4 L660,1102.3 L662,1101.3 L664,1100.2 L666,1099 L668,1097.9 L670,1096.7 L672,1095.6 L674,1094.4 L676,1093.1 L678,1091.9 L680,1090.6 L682,1089.3 L684,1088 L686,1086.7 L688,1085.4 L690,1084 L692,1082.6 L694,1081.3 L696,1079.9 L698,1078.4 L700,1077 L702,1075.5 L704,1074.1 L706,1072.6 L708,1071.1 L710,1069.6 L712,1068 L714,1066.5 L716,1064.9 L718,1063.4 L720,1061.8 L722,1060.2 L724,1058.6 L726,1057 L728,1055.4 L730,1053.7 L732,1052.1 L734,1050.4 L736,1048.8 L738,1047.1 L740,1045.4 L742,1043.7 L744,1042 L746,1040.3 L748,1038.6 L750,1036.9 L752,1035.1 L754,1033.4 L756,1031.7 L758,1029.9 L760,1028.2 L762,1026.4 L764,1024.6 L766,1022.9 L768,1021.1 L770,1019.3 L772,1017.5 L774,1015.8 L776,1014 L778,1012.2 L780,1010.4 L782,1008.6 L784,1006.8 L786,1005 L788,1003.2 L790,1001.5 L792,999.7 L794,997.9 L796,996.1 L798,994.3 L800,992.5 L802,990.7 L804,988.9 L806,987.2 L808,985.4 L810,983.6 L812,981.8 L814,980.1 L816,978.3 L818,976.6 L820,974.8 L822,973.1 L824,971.3 L826,969.6" fill="none" stroke="#e84444" stroke-width="7.5"/>
<path d="M588,1123.5 L626,1121.8 L662,1121 L700,1120.1 L702,1119.2 L704,1118.2 L706,1117.3 L708,1116.3 L710,1115.2 L712,1114.2 L714,1113.1 L716,1112 L718,1110.9 L720,1109.7 L722,1108.5 L724,1107.3 L726,1106.1 L728,1104.8 L730,1103.5 L732,1102.2 L734,1100.9 L736,1099.5 L738,1098.2 L740,1096.8 L742,1095.3 L744,1093.9 L746,1092.4 L748,1090.9 L750,1089.4 L752,1087.9 L754,1086.4 L756,1084.8 L758,1083.2 L760,1081.6 L762,1080 L764,1078.3 L766,1076.6 L768,1075 L770,1073.3 L772,1071.5 L774,1069.8 L776,1068 L778,1066.3 L780,1064.5 L782,1062.7 L784,1060.8 L786,1059 L788,1057.1 L790,1055.3 L792,1053.4 L794,1051.5 L796,1049.5 L798,1047.6 L800,1045.7 L802,1043.7 L804,1041.7 L806,1039.7 L808,1037.7 L810,1035.7 L812,1033.7 L814,1031.7 L816,1029.6 L818,1027.6 L820,1025.5 L822,1023.4 L824,1021.3 L826,1019.2 L828,1017.1 L830,1015 L832,1012.8 L834,1010.7 L836,1008.6 L838,1006.4 L840,1004.2 L842,1002.1 L844,999.9 L846,997.7 L848,995.5 L850,993.3 L852,991.1 L854,988.8 L856,986.6 L858,984.4 L860,982.2 L862,979.9 L864,977.7 L866,975.4 L868,973.2 L870,970.9" fill="none" stroke="#1f6fdc" stroke-width="7.5"/>
</g>
<line x1="697" y1="1123.5" x2="750" y2="1111.5" stroke="#1f6fdc" stroke-width="3"/>
<polygon points="766,1108.3 744.8,1102 749.5,1122.5" fill="#1f6fdc"/>
<path d="M602.4,1092.9 A36,36 0 0 1 625.4,1126" fill="none" stroke="#72c04c" stroke-width="2.6"/>
<path d="M653.4,1107.1 A62,62 0 0 1 662.9,1126" fill="none" stroke="#f07f2a" stroke-width="2.6"/>
<path d="M683,1119.5 A90,90 0 0 1 685,1126" fill="none" stroke="#4d8f9f" stroke-width="2.4"/>
<text x="617" y="1089" font-size="31" fill="#72c04c">θ<tspan font-size="24" dy="8">p</tspan></text>
<text x="683" y="1104" font-size="31" fill="#f07f2a">θ<tspan font-size="24" dy="8">c</tspan></text>
<text x="772" y="1112" font-size="31" fill="#4d8f9f">θ<tspan font-size="24" dy="8">f</tspan></text>
<text x="837" y="640.5" class="b" font-size="48" letter-spacing="4.5">d)</text>
<path d="M1202,783.7 C1202.9,784.6 1206.8,788.9 1208.5,790.7 C1210.2,792.5 1212.6,795.9 1214.5,797.2 C1216.4,798.5 1220.5,799.9 1222.6,800.8 C1224.7,801.7 1228.3,802.8 1230.6,803.8 C1232.9,804.8 1237.5,808.4 1239.7,808.5 C1241.9,808.6 1244.2,806.2 1246.8,804.8 C1249.4,803.4 1255.7,799.1 1258.9,797.8 C1262.1,796.5 1267.3,795.5 1271,794.8 C1274.7,794.1 1283.5,792.7 1287,792.7 C1290.5,792.7 1294,793.3 1297.2,794.8 C1300.4,796.3 1308.1,801.7 1311.3,803.8 C1314.5,805.9 1318.9,809.3 1321.4,810.5 C1323.9,811.7 1328,812.9 1330.4,812.9 C1332.8,812.9 1336.7,812.4 1339.5,810.5 C1342.3,808.6 1348.4,802 1351.6,798.8 C1354.8,795.6 1360.7,789 1363.7,786.7 C1366.7,784.4 1370.8,782.7 1373.8,781.6 C1376.8,780.5 1383.6,779.5 1385.9,778.6 C1388.2,777.7 1390.1,776.5 1391,774.6 C1391.9,772.7 1392.3,766.8 1393,764.5 C1393.7,762.2 1394.5,758.8 1396,757.5 C1397.5,756.2 1400.5,755.2 1404,754.8 C1407.5,754.4 1417.7,754.6 1422,754.8 C1426.3,755 1432.8,755.8 1436.3,756.4 C1439.8,757 1445.2,758.6 1448.4,759.5 C1451.6,760.4 1455.7,761.9 1460,763.5 C1464.3,765.1 1474.9,769.5 1480.3,771.6 C1485.7,773.7 1494.6,778 1500.5,779.6 C1506.4,781.2 1518,783.2 1524.7,783.7 C1531.4,784.2 1543.5,783.7 1551,783 C1558.5,782.3 1573.5,780.1 1581,778.6 C1588.5,777.1 1600.8,773.1 1607,771.6 C1613.2,770.1 1624.8,768 1627.5,767.5" fill="none" stroke="#35a866" stroke-width="4.6" stroke-linejoin="round" stroke-linecap="round"/>
<path d="M1202,874.4 C1203.1,875.6 1208.6,881.6 1210.5,883.5 C1212.4,885.4 1214.9,888.4 1216.5,888.5 C1218.1,888.6 1220.9,885.3 1222.6,884.5 C1224.3,883.7 1227.2,882.3 1229.6,882.4 C1232,882.5 1237.6,884.6 1240.7,885.5 C1243.8,886.4 1249.3,888.8 1252.8,889.5 C1256.3,890.2 1264,890.3 1267,891 C1270,891.7 1271.8,892 1275,894.5 C1278.2,897 1286.2,904.3 1291,909.7 C1295.8,915.1 1307,934.1 1311.3,934.9 C1315.6,935.7 1320.2,919.3 1323.4,915.7 C1326.6,912.1 1332.3,908.3 1335.5,907.6 C1338.7,906.9 1343.8,908.8 1347.6,910.7 C1351.4,912.6 1359.1,919.1 1363.7,921.8 C1368.3,924.5 1376.7,929.2 1381.8,930.8 C1386.9,932.4 1395.3,933.9 1402,933.9 C1408.7,933.9 1424.3,931.9 1432,930.8 C1439.7,929.7 1452.7,926.9 1460,925.8 C1467.3,924.7 1480.7,922.8 1486.4,922.8 C1492.1,922.8 1499.4,924.6 1502.5,925.8 C1505.6,927 1508.3,929.9 1509.6,931.8 C1510.9,933.7 1511.1,937.9 1512.6,939.9 C1514.1,941.9 1518.5,945.8 1520.6,947 C1522.7,948.2 1525.5,949.4 1528.7,949 C1531.9,948.6 1540,946.3 1544.8,944 C1549.6,941.7 1559.6,935.4 1565,931.8 C1570.4,928.2 1579.4,921.1 1585,916.7 C1590.6,912.3 1601.6,903.2 1607.3,898.6 C1613,894 1624.8,884.6 1627.5,882.4" fill="none" stroke="#e83e3e" stroke-width="4.6" stroke-linejoin="round" stroke-linecap="round"/>
<path d="M1203,924.2 C1204.4,925.1 1210.9,929.1 1213.3,930.7 C1215.7,932.3 1218.7,934.2 1220.7,936.3 C1222.7,938.4 1226.2,943.2 1228.2,946.5 C1230.2,949.8 1233.9,958.1 1235.6,961.4 C1237.3,964.7 1239.2,969.4 1241.2,971.6 C1243.2,973.8 1247.8,976.1 1250.5,978.2 C1253.2,980.3 1257.7,983.4 1261.7,987.5 C1265.7,991.6 1275.3,1003.4 1280.3,1008.9 C1285.3,1014.4 1293.9,1023.8 1298.9,1028.4 C1303.9,1033 1312.5,1039.4 1317.5,1043.3 C1322.5,1047.2 1331.1,1053.8 1336.1,1057.3 C1341.1,1060.8 1349.7,1066.4 1354.7,1069.4 C1359.7,1072.4 1369.3,1077.4 1373.3,1079.6 C1377.3,1081.8 1382.3,1084.5 1384.5,1086.1 C1386.7,1087.7 1388.8,1090.1 1390,1091.7 C1391.2,1093.3 1392.5,1097.5 1393.8,1098.2 C1395.1,1098.9 1396.7,1098.8 1399.4,1097.3 C1402.1,1095.8 1409.6,1090.5 1414.3,1087 C1419,1083.5 1428.8,1076 1434.7,1071.2 C1440.6,1066.4 1452.9,1055.9 1458.6,1051.3 C1464.3,1046.7 1472.3,1040.1 1477.3,1036.4 C1482.3,1032.7 1490.5,1026.6 1496,1023.4 C1501.5,1020.2 1512.1,1014.7 1518.3,1012.2 C1524.5,1009.7 1535.5,1006.6 1542.5,1004.7 C1549.5,1002.8 1563,999.7 1570.5,998.2 C1578,996.7 1590.8,994.8 1598.4,993.6 C1606,992.4 1623.4,989.5 1627.3,988.9" fill="none" stroke="#1c68dc" stroke-width="4.6" stroke-linejoin="round" stroke-linecap="round"/>
<line x1="1164.3" y1="718.5" x2="1164.3" y2="1123.6" stroke="#000" stroke-width="3.6"/>
<line x1="1158.4" y1="1121.8" x2="1667.4" y2="1121.8" stroke="#000" stroke-width="3.6"/>
<line x1="1158" y1="1121.8" x2="1164" y2="1121.8" stroke="#000" stroke-width="3.6"/>
<text x="1142" y="1134.8" font-size="37.5" text-anchor="end">0</text>
<line x1="1158" y1="1021.3" x2="1164" y2="1021.3" stroke="#000" stroke-width="3.6"/>
<text x="1142" y="1034.3" font-size="37.5" text-anchor="end">5</text>
<line x1="1158" y1="920.8" x2="1164" y2="920.8" stroke="#000" stroke-width="3.6"/>
<text x="1142" y="933.8" font-size="37.5" text-anchor="end">10</text>
<line x1="1158" y1="820.3" x2="1164" y2="820.3" stroke="#000" stroke-width="3.6"/>
<text x="1142" y="833.3" font-size="37.5" text-anchor="end">15</text>
<line x1="1158" y1="719.8" x2="1164" y2="719.8" stroke="#000" stroke-width="3.6"/>
<text x="1142" y="732.8" font-size="37.5" text-anchor="end">20</text>
<line x1="1161.5" y1="1071.5" x2="1164" y2="1071.5" stroke="#000" stroke-width="3.6"/>
<line x1="1161.5" y1="971" x2="1164" y2="971" stroke="#000" stroke-width="3.6"/>
<line x1="1161.5" y1="870.5" x2="1164" y2="870.5" stroke="#000" stroke-width="3.6"/>
<line x1="1161.5" y1="770" x2="1164" y2="770" stroke="#000" stroke-width="3.6"/>
<line x1="1204" y1="1121" x2="1204" y2="1130.5" stroke="#000" stroke-width="3.6"/>
<text x="1204.5" y="1168.4" font-size="37.5" text-anchor="middle">500</text>
<line x1="1358" y1="1121" x2="1358" y2="1130.5" stroke="#000" stroke-width="3.6"/>
<text x="1358.5" y="1168.4" font-size="37.5" text-anchor="middle">700</text>
<line x1="1512" y1="1121" x2="1512" y2="1130.5" stroke="#000" stroke-width="3.6"/>
<text x="1512.5" y="1168.4" font-size="37.5" text-anchor="middle">900</text>
<line x1="1666" y1="1121" x2="1666" y2="1130.5" stroke="#000" stroke-width="3.6"/>
<text x="1666.5" y="1168.4" font-size="37.5" text-anchor="middle">1100</text>
<line x1="1281" y1="1121" x2="1281" y2="1125" stroke="#000" stroke-width="3.6"/>
<line x1="1435" y1="1121" x2="1435" y2="1125" stroke="#000" stroke-width="3.6"/>
<line x1="1589" y1="1121" x2="1589" y2="1125" stroke="#000" stroke-width="3.6"/>
<text x="1424" y="1237.5" font-size="43.3" text-anchor="middle">Wavelength (nm)</text>
<text transform="translate(1073,933.5) rotate(-90)" font-size="43" text-anchor="middle">Reflectance (%)</text>
<text x="1614.3" y="730.2" font-size="35" letter-spacing="0.6" fill="#3aac6a" text-anchor="middle">parabolic</text>
<text x="1603.5" y="860.6" font-size="36.5" letter-spacing="0.8" fill="#e84444" text-anchor="middle">cone</text>
<text x="1596" y="1044.8" font-size="35" fill="#6a9fe6" text-anchor="middle">funnel</text>
</svg>
</body></html>
